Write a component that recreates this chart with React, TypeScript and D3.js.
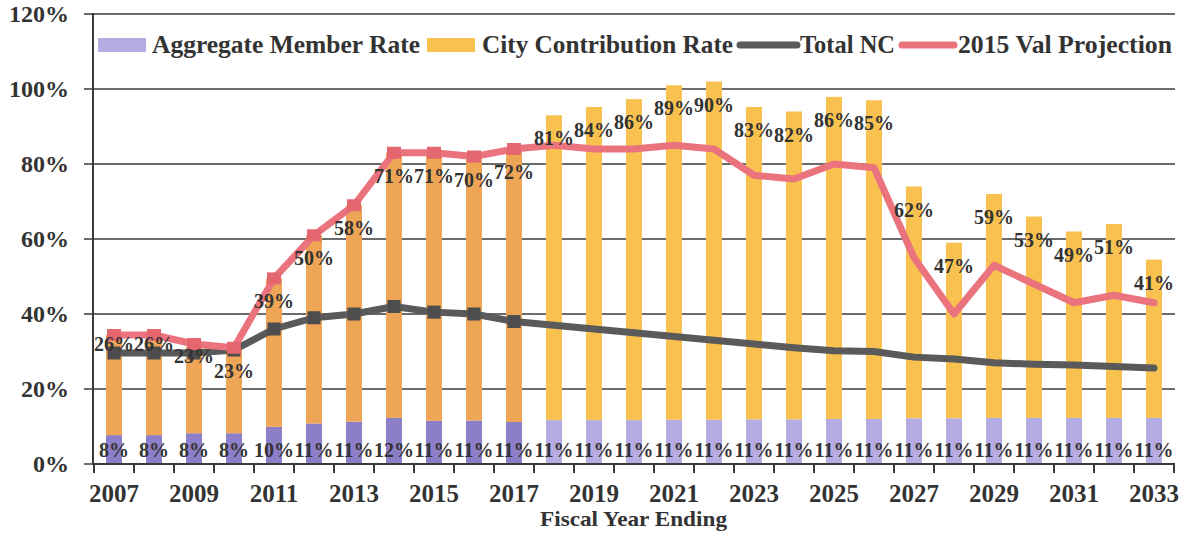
import React from 'react';
import * as d3 from 'd3';

const years = ['2007','2008','2009','2010','2011','2012','2013','2014','2015','2016','2017','2018','2019','2020','2021','2022','2023','2024','2025','2026','2027','2028','2029','2030','2031','2032','2033'];
const lastActualYear = '2017';

const memberRate = [7.7,7.7,8.2,8.2,9.9,10.8,11.3,12.3,11.5,11.6,11.2,11.7,11.7,11.7,11.8,11.8,11.9,11.9,12.0,12.0,12.2,12.2,12.3,12.3,12.3,12.3,12.3];
const cityRate = [26.7,26.7,23.0,22.8,39.6,50.2,57.7,70.7,71.5,70.4,72.8,81.3,83.5,85.6,89.2,90.2,83.3,82.1,85.9,85.0,61.8,46.8,59.7,53.7,49.7,51.7,42.2];
const memberLabels = [8,8,8,8,10,11,11,12,11,11,11,11,11,11,11,11,11,11,11,11,11,11,11,11,11,11,11];
const cityLabels = [26,26,23,23,39,50,58,71,71,70,72,81,84,86,89,90,83,82,86,85,62,47,59,53,49,51,41];
const totalNC = [29.6,29.6,29.6,30.4,36,39,40,42,40.5,40,38,37,36,35,34,33,32,31,30.2,30,28.5,28,27,26.6,26.4,26,25.6];
const valProjection = [34.4,34.4,32,31,49.5,61,69,83,83,82,84,85,84,84,85,84,77,76,80,79,55,40,53,48,43,45,43];
const yTicks = [0,20,40,60,80,100,120];

const seriesNames = ['Aggregate Member Rate','City Contribution Rate','Total NC','2015 Val Projection'];

const FONT = '"Liberation Serif", "Times New Roman", serif';
const TXT = '#333333';
const C = {
  cityHist: '#EFA556',
  cityProj: '#F9C250',
  memHist: '#8C7FC8',
  memProj: '#B4ACE2',
  pink: '#EA737E',
  gray: '#5A5A5A',
  grid: '#3a3a3a',
};

export default function App() {
  const W = 1184, H = 533;
  const x = d3.scaleBand<string>().domain(years).range([94, 1174]).paddingInner(0.6).paddingOuter(0.3);
  const y = d3.scaleLinear().domain([0, 120]).range([464, 14]);
  const bw = x.bandwidth();
  const step = x.step();
  const cx = (d: string) => (x(d) as number) + bw / 2;
  const histIdx = years.indexOf(lastActualYear);

  const line = d3.line<number>().x((_, i) => cx(years[i])).y(v => y(v)).curve(d3.curveLinear);

  const boundaries = years.map(d => (x(d) as number) - (step - bw) / 2).concat([x.range()[1]]);

  return (
    <svg width={W} height={H} style={{ position: 'absolute', left: 0, top: 0, background: '#fff' }} fontFamily={FONT}>
      <rect width={W} height={H} fill="#fff" />
      {/* grid */}
      {yTicks.map(t => (
        <g key={t}>
          {t > 0 && <line x1={93} x2={1175} y1={y(t)} y2={y(t)} stroke={C.grid} strokeWidth={1.5} />}
          <line x1={84} x2={93} y1={y(t)} y2={y(t)} stroke={C.grid} strokeWidth={1.5} />
          <text x={69} y={y(t) + 8} textAnchor="end" fontSize={24} fontWeight="bold" fill={TXT}>{t}%</text>
        </g>
      ))}
      {/* bars */}
      {years.map((d, i) => {
        const hist = i <= histIdx;
        const m = memberRate[i], c = cityRate[i];
        return (
          <g key={d}>
            <rect x={x(d)} width={bw} y={y(m)} height={y(0) - y(m)} fill={hist ? C.memHist : C.memProj} />
            <rect x={x(d)} width={bw} y={y(m + c)} height={y(m) - y(m + c)} fill={hist ? C.cityHist : C.cityProj} />
          </g>
        );
      })}
      {/* axes */}
      <line x1={93} x2={93} y1={13} y2={465} stroke={C.grid} strokeWidth={2} />
      <line x1={93} x2={1175} y1={y(0)} y2={y(0)} stroke={C.grid} strokeWidth={2} />
      {boundaries.map((b, i) => (
        <line key={i} x1={b} x2={b} y1={y(0)} y2={y(0) + 9} stroke={C.grid} strokeWidth={2} />
      ))}
      {years.map((d, i) => i % 2 === 0 ? (
        <text key={d} x={cx(d)} y={502} textAnchor="middle" fontSize={25} fontWeight="bold" fill={TXT}>{d}</text>
      ) : null)}
      <text x={540} y={526} textLength={187} lengthAdjust="spacingAndGlyphs" fontSize={21} fontWeight="bold" fill={TXT}>Fiscal Year Ending</text>
      {/* lines */}
      <path d={line(totalNC) || ''} fill="none" stroke={C.gray} strokeWidth={7} strokeLinejoin="round" strokeLinecap="round" />
      {totalNC.map((v, i) => i <= histIdx ? (
        <rect key={i} x={cx(years[i]) - 6.5} y={y(v) - 6.5} width={13} height={13} fill="#4d4d4d" />
      ) : null)}
      <path d={line(valProjection) || ''} fill="none" stroke={C.pink} strokeWidth={7} strokeLinejoin="round" strokeLinecap="round" />
      {valProjection.map((v, i) => i <= histIdx ? (
        <rect key={i} x={cx(years[i]) - 7} y={y(v) - 6} width={14} height={12} fill="#E4676F" />
      ) : null)}
      {/* data labels */}
      {years.map((d, i) => {
        const top = y(memberRate[i] + cityRate[i]);
        const off = i <= 2 ? 9 : 23;
        return (
          <g key={d}>
            <text x={cx(d)} y={top + off + 7} textAnchor="middle" fontSize={20} fontWeight="bold" fill={TXT}>{cityLabels[i]}%</text>
            <text x={cx(d)} y={457} textAnchor="middle" fontSize={20} fontWeight="bold" fill={TXT}>{memberLabels[i]}%</text>
          </g>
        );
      })}
      {/* legend */}
      <g fontSize={25} fontWeight="bold" fill={TXT}>
        <rect x={98} y={38} width={48} height={14} fill={C.memProj} />
        <text x={152} y={53} textLength={268} lengthAdjust="spacingAndGlyphs">{seriesNames[0]}</text>
        <rect x={427} y={38} width={48} height={14} fill={C.cityProj} />
        <text x={482} y={53} textLength={251} lengthAdjust="spacingAndGlyphs">{seriesNames[1]}</text>
        <line x1={740} x2={797} y1={45} y2={45} stroke={C.gray} strokeWidth={7} strokeLinecap="round" />
        <text x={800} y={53} textLength={95} lengthAdjust="spacingAndGlyphs">{seriesNames[2]}</text>
        <line x1={902} x2={954} y1={45} y2={45} stroke={C.pink} strokeWidth={7} strokeLinecap="round" />
        <text x={958} y={53} textLength={214} lengthAdjust="spacingAndGlyphs">{seriesNames[3]}</text>
      </g>
    </svg>
  );
}
